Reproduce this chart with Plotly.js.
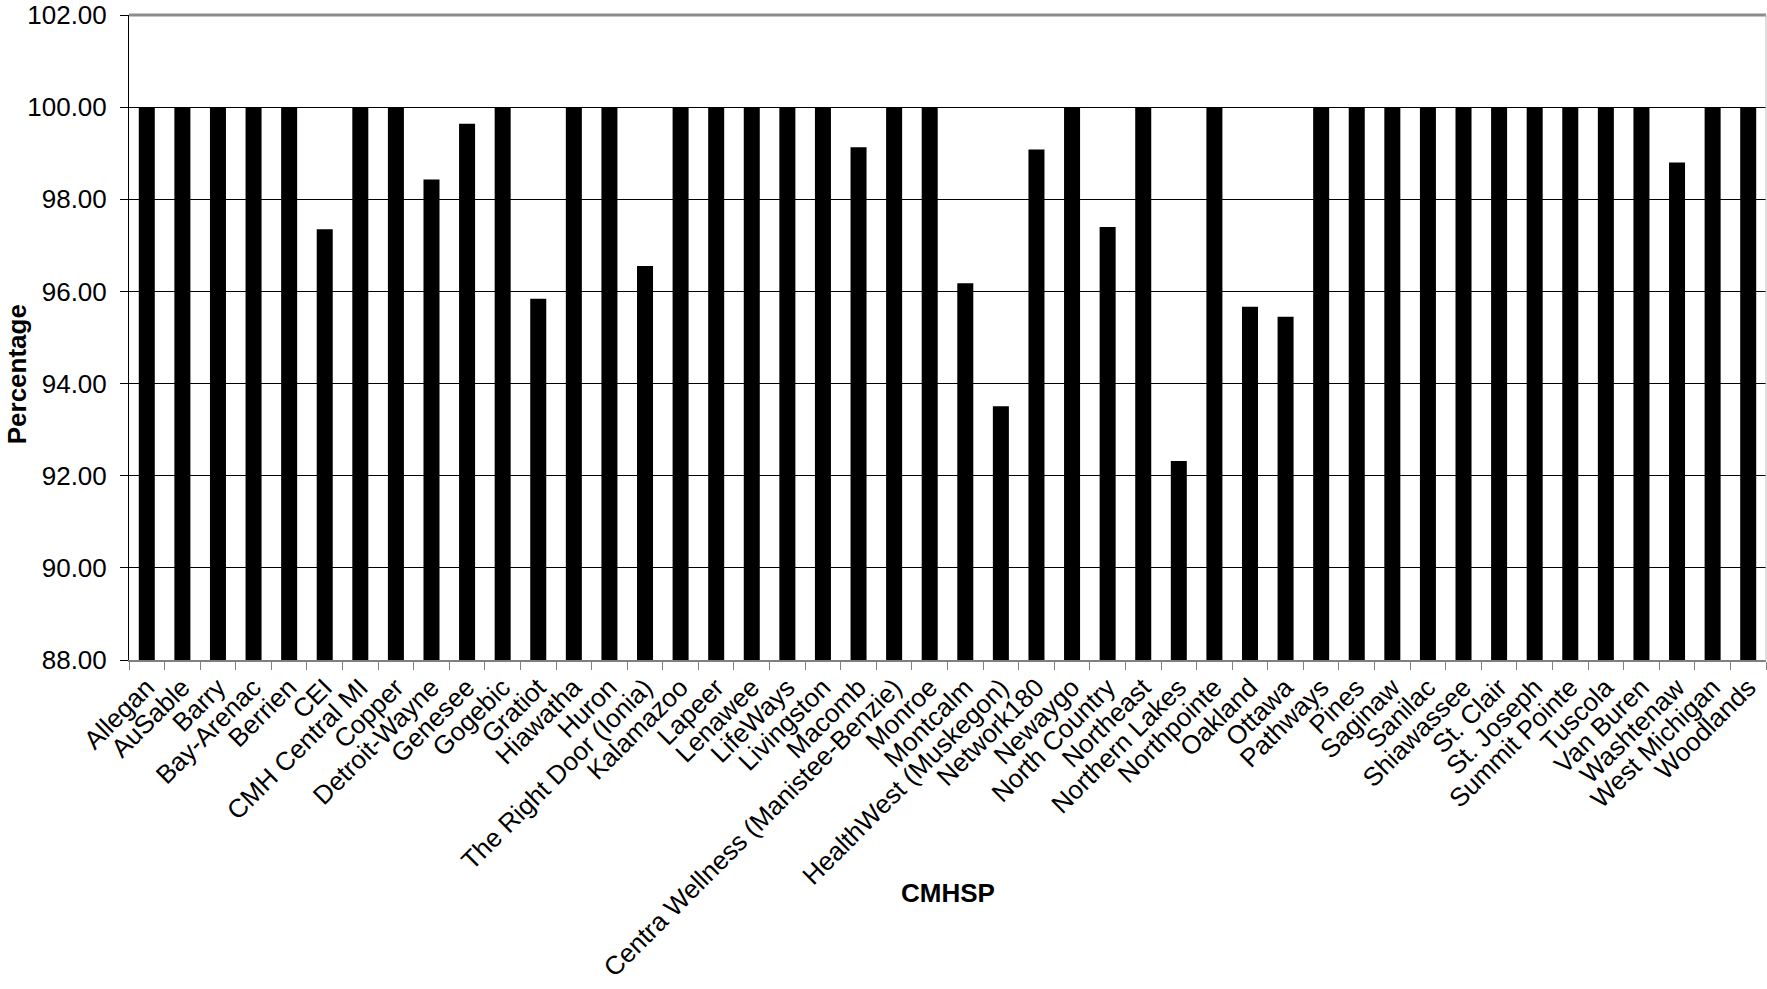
<!DOCTYPE html>
<html>
<head>
<meta charset="utf-8">
<script src="https://cdn.plot.ly/plotly-3.0.1.min.js"></script>
<style>html,body{margin:0;padding:0;background:#fff;}#chart{width:1767px;height:989px;}</style>
</head>
<body>
<div id="chart"></div>
<script>
const categories = ["Allegan","AuSable","Barry","Bay-Arenac","Berrien","CEI","CMH Central MI","Copper","Detroit-Wayne","Genesee","Gogebic","Gratiot","Hiawatha","Huron","The Right Door (Ionia)","Kalamazoo","Lapeer","Lenawee","LifeWays","Livingston","Macomb","Centra Wellness (Manistee-Benzie)","Monroe","Montcalm","HealthWest (Muskegon)","Network180","Newaygo","North Country","Northeast","Northern Lakes","Northpointe","Oakland","Ottawa","Pathways","Pines","Saginaw","Sanilac","Shiawassee","St. Clair","St. Joseph","Summit Pointe","Tuscola","Van Buren","Washtenaw","West Michigan","Woodlands"];
const percentages = [100,100,100,100,100,97.35,100,100,98.43,99.64,100,95.84,100,100,96.55,100,100,100,100,100,99.13,100,100,96.18,93.51,99.08,100,97.40,100,92.32,100,95.67,95.45,100,100,100,100,100,100,100,100,100,100,98.80,100,100];
const yTickVals = [88,90,92,94,96,98,100,102];
const xTitle = "CMHSP";
const yTitle = "Percentage";

const FONT = "Liberation Sans, Arial, sans-serif";
const trace = {
  type: "bar",
  x: categories,
  y: percentages,
  marker: {color: "#000000", line: {width: 0}},
  hoverinfo: "x+y"
};
const layout = {
  width: 1767, height: 989,
  margin: {l: 129, r: 1, t: 15, b: 329},
  paper_bgcolor: "#ffffff", plot_bgcolor: "#ffffff",
  bargap: 0.55,
  showlegend: false,
  font: {family: FONT, color: "#000", size: 26},
  xaxis: {
    type: "category",
    tickangle: -45,
    tickfont: {family: FONT, size: 26, color: "#000"},
    ticks: "outside", ticklen: 8, tickcolor: "#808080", tickwidth: 1,
    tickson: "boundaries",
    showline: true, linecolor: "#808080", linewidth: 2,
    showgrid: false,
    automargin: false
  },
  yaxis: {
    range: [88, 102],
    tickvals: yTickVals,
    tickformat: ".2f",
    tickfont: {family: FONT, size: 26, color: "#000"},
    ticks: "outside", ticklen: 8, tickcolor: "#000", tickwidth: 1,
    showline: true, linecolor: "#000", linewidth: 1,
    showgrid: true, gridcolor: "#000", gridwidth: 1,
    zeroline: false,
    automargin: false,
    ticklabelstandoff: 8
  },
  shapes: [
    {type: "line", xref: "paper", yref: "paper", x0: 0, x1: 1, y0: 1, y1: 1, line: {color: "#8c8c8c", width: 3}},
    {type: "line", xref: "paper", yref: "paper", x0: 1, x1: 1, y0: 0, y1: 1, line: {color: "#bdbdbd", width: 1}}
  ],
  annotations: [
    {text: "<b>" + yTitle + "</b>", xref: "paper", yref: "paper", x: -0.0684, y: 0.443, textangle: -90, showarrow: false, font: {family: FONT, size: 26, color: "#000"}, xanchor: "center", yanchor: "middle"},
    {text: "<b>" + xTitle + "</b>", xref: "paper", yref: "paper", x: 0.5, y: -0.3612, showarrow: false, font: {family: FONT, size: 26, color: "#000"}, xanchor: "center", yanchor: "middle"}
  ]
};
Plotly.newPlot("chart", [trace], layout, {displayModeBar: false, staticPlot: true});
</script>
</body>
</html>
